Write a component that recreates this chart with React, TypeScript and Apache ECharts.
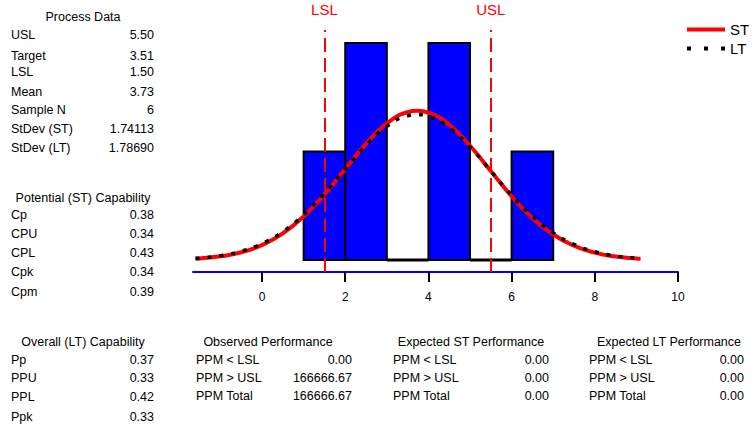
import React, { useEffect, useRef } from "react";
import * as echarts from "echarts";

// ---- data ----
const binStarts = [1, 2, 3, 4, 5, 6];
const binWidth = 1;
const binCounts = [1, 2, 0, 2, 0, 1];

const curveX = [-1.6, -1.5, -1, -0.5, 0, 0.5, 1, 1.5, 2, 2.5, 3, 3.5, 3.73, 4, 4.5, 5, 5.5, 6, 6.5, 7, 7.5, 8, 8.5, 9, 9.1];
const stCurve = [0.0127, 0.0151, 0.0343, 0.0719, 0.1386, 0.2461, 0.4021, 0.6053, 0.8392, 1.0713, 1.2592, 1.3628, 1.3748, 1.3583, 1.2467, 1.0537, 0.8201, 0.5877, 0.3878, 0.2357, 0.1319, 0.068, 0.0323, 0.0141, 0.0118];
const ltCurve = [0.0157, 0.0185, 0.0403, 0.0813, 0.1517, 0.2615, 0.417, 0.6149, 0.8383, 1.0571, 1.2323, 1.3286, 1.3396, 1.3244, 1.2209, 1.0406, 0.8202, 0.5977, 0.4028, 0.251, 0.1447, 0.0771, 0.038, 0.0173, 0.0147];

const specNames = ["LSL", "USL"];
const specValues = [1.5, 5.5];
const xTicks = [0, 2, 4, 6, 8, 10];

const processLabels = ["USL", "Target", "LSL", "Mean", "Sample N", "StDev (ST)", "StDev (LT)"];
const processValues = ["5.50", "3.51", "1.50", "3.73", "6", "1.74113", "1.78690"];
const potentialLabels = ["Cp", "CPU", "CPL", "Cpk", "Cpm"];
const potentialValues = ["0.38", "0.34", "0.43", "0.34", "0.39"];
const overallLabels = ["Pp", "PPU", "PPL", "Ppk"];
const overallValues = ["0.37", "0.33", "0.42", "0.33"];
const ppmLabels = ["PPM < LSL", "PPM > USL", "PPM Total"];
const observedValues = ["0.00", "166666.67", "166666.67"];
const expectedSTValues = ["0.00", "0.00", "0.00"];
const expectedLTValues = ["0.00", "0.00", "0.00"];

// ---- layout ----
const FONT = '"Liberation Sans", Arial, sans-serif';
const FS = 12.5;

function txt(x: number, y: number, text: string, align: string) {
  return {
    type: "text",
    x,
    y,
    silent: true,
    style: { text, fill: "#000", fontSize: FS, fontFamily: FONT, align, verticalAlign: "middle" },
  };
}

function table(
  title: string,
  titleCx: number,
  titleY: number,
  labels: string[],
  values: string[],
  rowYs: number[],
  leftX: number,
  rightX: number
) {
  const els: any[] = [txt(titleCx, titleY, title, "center")];
  labels.forEach((l, i) => {
    els.push(txt(leftX, rowYs[i], l, "left"));
    els.push(txt(rightX, rowYs[i], values[i], "right"));
  });
  return els;
}

export default function App() {
  const ref = useRef<HTMLDivElement>(null);
  useEffect(() => {
    if (!ref.current) return;
    const chart = echarts.init(ref.current, undefined, { renderer: "svg" });

    const graphics = [
      ...table("Process Data", 83, 17, processLabels, processValues, [35, 56, 72, 92, 110, 129, 148], 11, 154),
      ...table("Potential (ST) Capability", 83, 198, potentialLabels, potentialValues, [215, 234, 253, 272, 292], 11, 154),
      ...table("Overall (LT) Capability", 83, 342, overallLabels, overallValues, [360, 378, 397, 417], 11, 154),
      ...table("Observed Performance", 268, 342, ppmLabels, observedValues, [360, 378, 396], 196, 352),
      ...table("Expected ST Performance", 471, 342, ppmLabels, expectedSTValues, [360, 378, 396], 393, 549),
      ...table("Expected LT Performance", 669, 342, ppmLabels, expectedLTValues, [360, 378, 396], 589, 744),
    ];

    chart.setOption({
      animation: false,
      backgroundColor: "#fff",
      grid: { left: 193, right: 76, top: 30, bottom: 154 },
      legend: {
        data: [
          { name: "ST", itemStyle: { opacity: 0 }, lineStyle: { color: "#ff0000", width: 4 } },
          { name: "LT", itemStyle: { opacity: 0 }, lineStyle: { color: "#000", width: 4, type: [4, 13] } },
        ],
        orient: "vertical",
        left: 685,
        top: 22,
        padding: 0,
        itemWidth: 38,
        itemHeight: 12,
        itemGap: 4,
        itemTextGap: 8,
        textStyle: { fontSize: 15, color: "#000", fontFamily: FONT },
      },
      xAxis: {
        type: "value",
        min: -1.66,
        max: 10,
        axisLine: { show: true, onZero: false, lineStyle: { color: "#0000ff", width: 2 } },
        axisTick: { show: true, customValues: xTicks, length: 10, lineStyle: { color: "#000", width: 2 } },
        axisLabel: { customValues: xTicks, color: "#000", fontSize: 12, fontFamily: FONT, margin: 19 },
        splitLine: { show: false },
      },
      yAxis: { type: "value", min: -0.11, max: 2.12, show: false },
      graphic: graphics,
      series: [
        {
          type: "custom",
          name: "hist",
          z: 1,
          renderItem: (params: any, api: any) => {
            const x0 = api.value(0);
            const x1 = api.value(1);
            const c = api.value(2);
            const p0 = api.coord([x0, c]);
            const p1 = api.coord([x1, 0]);
            if (c > 0) {
              return {
                type: "rect",
                shape: { x: p0[0], y: p0[1], width: p1[0] - p0[0], height: p1[1] - p0[1] },
                style: { fill: "#0000ff", stroke: "#000", lineWidth: 2 },
              };
            }
            return {
              type: "line",
              shape: { x1: p0[0], y1: p1[1], x2: p1[0], y2: p1[1] },
              style: { stroke: "#000", lineWidth: 3 },
            };
          },
          encode: { x: [0, 1], y: 2 },
          data: binStarts.map((s, i) => [s, s + binWidth, binCounts[i]]),
        },
        {
          type: "line",
          name: "ST",
          z: 3,
          smooth: true,
          symbol: "none",
          color: "#ff0000",
          lineStyle: { color: "#ff0000", width: 4 },
          data: curveX.map((x, i) => [x, stCurve[i]]),
          markLine: {
            silent: true,
            symbol: ["none", "none"],
            lineStyle: { color: "#ff0000", width: 2, type: [14, 6] },
            label: { show: true, position: "end", formatter: "{b}", color: "#ff0000", fontSize: 15, fontFamily: FONT, distance: 13 },
            data: specNames.map((n, i) => ({ name: n, xAxis: specValues[i] })),
          },
        },
        {
          type: "line",
          name: "LT",
          z: 4,
          smooth: true,
          symbol: "none",
          color: "#000",
          lineStyle: { color: "#000", width: 3.5, type: [4, 8] },
          data: curveX.map((x, i) => [x, ltCurve[i]]),
        },
      ],
    });
    return () => chart.dispose();
  }, []);
  return <div ref={ref} style={{ position: "fixed", left: 0, top: 0, width: 754, height: 426 }} />;
}
